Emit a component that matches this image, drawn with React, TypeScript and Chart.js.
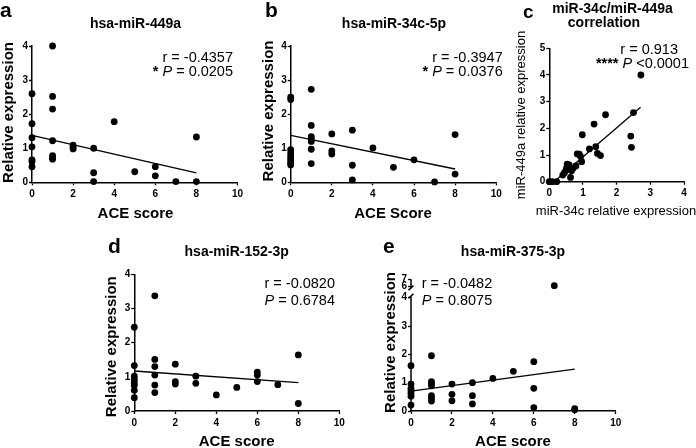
import React, { useEffect, useRef } from 'react';
import { Chart, registerables, LinearScale } from 'chart.js';

const FONT = "'Liberation Sans', Arial, Helvetica, sans-serif";
const W = 696;
const H = 448;

// ---------- data ----------
// a: hsa-miR-449a vs ACE score
const A_ACE = [0, 0, 0, 0, 0, 0, 0, 1, 1, 1, 1, 1, 1, 1, 2, 2, 2, 3, 3, 3, 4, 5, 6, 6, 7, 8, 8];
const A_EXPR = [2.6, 1.72, 1.31, 1.04, 0.66, 0.61, 0.46, 4.0, 2.52, 2.15, 1.22, 0.78, 0.73, 0.68, 1.09, 1.03, 0.98, 1.0, 0.28, 0.02, 1.78, 0.31, 0.46, 0.19, 0.02, 1.33, 0.02];
const A_FIT_X = [0, 8];
const A_FIT_Y = [1.38, 0.28];

// b: hsa-miR-34c-5p vs ACE score
const B_ACE = [0, 0, 0, 0, 0, 0, 0, 0, 0, 1, 1, 1, 1, 1, 1, 1, 2, 2, 2, 3, 3, 3, 4, 5, 6, 7, 8, 8];
const B_EXPR = [2.5, 2.43, 0.96, 0.86, 0.78, 0.7, 0.63, 0.56, 0.51, 2.73, 1.67, 1.34, 1.27, 1.2, 0.97, 0.55, 1.42, 0.92, 0.83, 1.53, 0.5, 0.07, 1.01, 0.44, 0.66, 0.01, 1.4, 0.24];
const B_FIT_X = [0, 8];
const B_FIT_Y = [1.38, 0.39];

// c: miR-34c vs miR-449a
const C_MIR34C = [0, 0.09, 0.22, 0.4, 0.45, 0.5, 0.53, 0.59, 0.51, 0.63, 0.66, 0.71, 0.79, 0.83, 0.89, 0.93, 0.96, 0.98, 1.19, 1.33, 1.38, 1.43, 1.52, 1.67, 2.42, 2.44, 2.5, 2.72];
const C_MIR449A = [0, 0, 0, 0.25, 0.34, 0.44, 0.66, 0.63, 0.5, 0.16, 0.41, 0.5, 0.59, 1.04, 1.03, 0.94, 0.75, 1.76, 1.23, 2.16, 1.31, 1.06, 0.98, 2.51, 1.71, 1.29, 2.59, 4.0];
const C_FIT_X = [0.14, 2.71];
const C_FIT_Y = [0, 2.79];

// d: hsa-miR-152-3p vs ACE score
const D_ACE = [0, 0, 0, 0, 0, 0, 0, 0, 1, 1, 1, 1, 1, 1, 2, 2, 2, 3, 3, 4, 5, 6, 6, 6, 7, 8, 8];
const D_EXPR = [2.45, 1.33, 1.02, 0.92, 0.83, 0.75, 0.61, 0.39, 3.37, 1.51, 1.3, 1.05, 0.76, 0.54, 1.37, 0.86, 0.79, 1.02, 0.81, 0.47, 0.69, 1.14, 1.05, 0.86, 0.77, 1.64, 0.22];
const D_FIT_X = [0, 8];
const D_FIT_Y = [1.17, 0.83];

// e: hsa-miR-375-3p vs ACE score
const E_ACE = [0, 0, 0, 0, 0, 0, 0, 1, 1, 1, 1, 1, 1, 1, 2, 2, 2, 3, 3, 3, 4, 5, 6, 6, 6, 7, 8, 8];
const E_EXPR = [1.6, 0.95, 0.8, 0.71, 0.62, 0.52, 0.21, 1.95, 1.04, 0.98, 0.89, 0.54, 0.45, 0.35, 0.95, 0.59, 0.36, 1.0, 0.54, 0.25, 1.15, 1.4, 1.74, 0.8, 0.12, 6.14, 0.08, 0.04];
const E_FIT_X = [0, 8];
const E_FIT_Y = [0.7, 1.48];
const E_Y_TICKS = [0, 1, 2, 3, 4, 6, 7];

// labels
const TITLES = ['hsa-miR-449a', 'hsa-miR-34c-5p', 'miR-34c/miR-449a', 'correlation', 'hsa-miR-152-3p', 'hsa-miR-375-3p'];
const R_VALUES = ['r = -0.4357', 'r = -0.3947', 'r = 0.913', 'r = -0.0820', 'r = -0.0482'];
const P_VALUES = [' = 0.0205', ' = 0.0376', ' <0.0001', ' = 0.6784', ' = 0.8075'];
const STARS = ['* ', '* ', '**** ', '', ''];

// ---------- broken axis scale for panel e ----------
const E_GAP = 0.39;
const E_UPPER = 0.26;
function brk(v: number) {
  if (v <= 4) return v;
  if (v >= 6) return 4 + E_GAP + (v - 6) * E_UPPER;
  return 4 + ((v - 4) / 2) * E_GAP;
}
function unbrk(t: number) {
  if (t <= 4) return t;
  if (t >= 4 + E_GAP) return 6 + (t - 4 - E_GAP) / E_UPPER;
  return 4 + ((t - 4) / E_GAP) * 2;
}
class BrokenLinearScale extends LinearScale {
  static id = 'brokenLinear';
  static defaults = {};
  buildTicks() {
    return E_Y_TICKS.map((value) => ({ value }));
  }
  getPixelForValue(value: number) {
    return this.getPixelForDecimal(brk(value) / brk(this.max));
  }
  getValueForPixel(pixel: number) {
    return unbrk(this.getDecimalForPixel(pixel) * brk(this.max));
  }
}
Chart.register(...registerables, BrokenLinearScale as any);

// ---------- text drawing ----------
type Seg = { t: string; italic?: boolean; bold?: boolean };
type TextItem = {
  segs: Seg[];
  x: number;
  y: number;
  align: 'left' | 'center' | 'right';
  size: number;
  bold?: boolean;
  rotate?: boolean;
  baseline?: CanvasTextBaseline;
};

function drawItem(ctx: CanvasRenderingContext2D, it: TextItem) {
  ctx.save();
  ctx.fillStyle = '#000';
  ctx.textBaseline = it.baseline ?? 'alphabetic';
  ctx.textAlign = 'left';
  ctx.translate(it.x, it.y);
  if (it.rotate) ctx.rotate(-Math.PI / 2);
  const fontFor = (s: Seg) =>
    `${s.italic ? 'italic ' : ''}${s.bold ?? it.bold ? 'bold ' : ''}${it.size}px ${FONT}`;
  const widths = it.segs.map((s) => {
    ctx.font = fontFor(s);
    return ctx.measureText(s.t).width;
  });
  const total = widths.reduce((a, b) => a + b, 0);
  let x = it.align === 'left' ? 0 : it.align === 'center' ? -total / 2 : -total;
  it.segs.forEach((s, i) => {
    ctx.font = fontFor(s);
    ctx.fillText(s.t, x, 0);
    x += widths[i];
  });
  ctx.restore();
}

const txt = (t: string, x: number, y: number, align: TextItem['align'], size: number, bold = false, extra: Partial<TextItem> = {}): TextItem => ({
  segs: [{ t }], x, y, align, size, bold, ...extra,
});
const pLine = (i: number, x: number, y: number, align: TextItem['align']): TextItem => ({
  segs: [{ t: STARS[i], bold: true }, { t: 'P', italic: true }, { t: P_VALUES[i] }],
  x, y, align, size: 14.5,
});

type Panel = {
  xs: number[]; ys: number[]; fitX: number[]; fitY: number[];
  xMax: number; xStep: number; yMax: number; broken?: boolean;
  area: { L: number; R: number; T: number; B: number };
  texts: TextItem[];
};

const PANELS: Panel[] = [
  {
    xs: A_ACE, ys: A_EXPR, fitX: A_FIT_X, fitY: A_FIT_Y, xMax: 10, xStep: 2, yMax: 4,
    area: { L: 32, R: 237.5, T: 46, B: 182.3 },
    texts: [
      txt('a', 0, 17, 'left', 21, true),
      txt(TITLES[0], 135.5, 28, 'center', 14, true),
      txt(R_VALUES[0], 233, 61.5, 'right', 14.5),
      pLine(0, 233, 76, 'right'),
      txt('Relative expression', 9, 112.5, 'center', 15, true, { rotate: true, baseline: 'middle' }),
      txt('ACE score', 135.5, 218, 'center', 15, true),
    ],
  },
  {
    xs: B_ACE, ys: B_EXPR, fitX: B_FIT_X, fitY: B_FIT_Y, xMax: 10, xStep: 2, yMax: 4,
    area: { L: 290.7, R: 496.2, T: 46, B: 182.3 },
    texts: [
      txt('b', 265, 17, 'left', 21, true),
      txt(TITLES[1], 394, 28, 'center', 14, true),
      txt(R_VALUES[1], 502.7, 61.5, 'right', 14.5),
      pLine(1, 502.7, 76, 'right'),
      txt('Relative expression', 269, 111, 'center', 15, true, { rotate: true, baseline: 'middle' }),
      txt('ACE Score', 393, 218, 'center', 15, true),
    ],
  },
  {
    xs: C_MIR34C, ys: C_MIR449A, fitX: C_FIT_X, fitY: C_FIT_Y, xMax: 4, xStep: 1, yMax: 5,
    area: { L: 549.3, R: 684, T: 48.3, B: 181.7 },
    texts: [
      txt('c', 523, 18, 'left', 19, true),
      txt(TITLES[2], 612.5, 12.5, 'center', 14, true),
      txt(TITLES[3], 604, 27, 'center', 14, true),
      txt(R_VALUES[2], 678, 54, 'right', 14.5),
      pLine(2, 689, 67.5, 'right'),
      txt('miR-449a relative expression', 521, 115, 'center', 13, false, { rotate: true, baseline: 'middle' }),
      txt('miR-34c relative expression', 616, 215, 'center', 13, false),
    ],
  },
  {
    xs: D_ACE, ys: D_EXPR, fitX: D_FIT_X, fitY: D_FIT_Y, xMax: 10, xStep: 2, yMax: 4,
    area: { L: 134.3, R: 339.3, T: 274.3, B: 411 },
    texts: [
      txt('d', 108, 253, 'left', 21, true),
      txt(TITLES[4], 236.7, 256, 'center', 14, true),
      txt(R_VALUES[3], 335, 288.3, 'right', 14.5),
      pLine(3, 335, 305, 'right'),
      txt('Relative expression', 112, 346.7, 'center', 15, true, { rotate: true, baseline: 'middle' }),
      txt('ACE score', 236.7, 446, 'center', 15, true),
    ],
  },
  {
    xs: E_ACE, ys: E_EXPR, fitX: E_FIT_X, fitY: E_FIT_Y, xMax: 10, xStep: 2, yMax: 7, broken: true,
    area: { L: 411, R: 615.7, T: 279.3, B: 411 },
    texts: [
      txt('e', 383, 253, 'left', 21, true),
      txt(TITLES[5], 513, 256, 'center', 14, true),
      txt(R_VALUES[4], 421.7, 288.3, 'left', 14.5),
      pLine(4, 421.7, 305, 'left'),
      txt('Relative expression', 390.5, 342.5, 'center', 15, true, { rotate: true, baseline: 'middle' }),
      txt('ACE score', 513, 446, 'center', 15, true),
    ],
  },
];

const pts = (xs: number[], ys: number[]) => xs.map((x, i) => ({ x, y: ys[i] }));

const brokenAxisPlugin = {
  id: 'brokenAxis',
  beforeDatasetsDraw(chart: any) {
    const y = chart.scales.y;
    const x0 = chart.chartArea.left;
    const ctx: CanvasRenderingContext2D = chart.ctx;
    const p0 = y.getPixelForValue(0);
    const p4 = y.getPixelForValue(4);
    const p6 = y.getPixelForValue(6);
    const p7 = y.getPixelForValue(7);
    ctx.save();
    ctx.strokeStyle = '#000';
    ctx.lineWidth = 1.5;
    ctx.beginPath();
    ctx.moveTo(x0, p0 + 0.75);
    ctx.lineTo(x0, p4 - 1.5);
    ctx.moveTo(x0 - 2.5, p4 + 0.5);
    ctx.lineTo(x0 + 2.5, p4 - 4);
    ctx.moveTo(x0 - 2.5, p6 + 3.5);
    ctx.lineTo(x0 + 2.5, p6 - 1);
    ctx.moveTo(x0, p6 + 1);
    ctx.lineTo(x0, p7);
    ctx.stroke();
    ctx.restore();
  },
};

function makeChart(canvas: HTMLCanvasElement, p: Panel) {
  const YW = 20;
  const XH = 20;
  const tickFont = { family: FONT, size: 10, weight: 'bold' as const };
  const grid = { drawOnChartArea: false, tickLength: 3, tickColor: '#000', tickWidth: 1.3, color: '#000' };
  const textPlugin = {
    id: 'panelText',
    afterDraw(chart: any) {
      p.texts.forEach((it) => drawItem(chart.ctx, it));
    },
  };
  return new Chart(canvas, {
    type: 'scatter',
    data: {
      datasets: [
        {
          type: 'scatter',
          data: pts(p.xs, p.ys),
          pointRadius: 3.4,
          pointHoverRadius: 3.4,
          backgroundColor: '#000',
          borderColor: '#000',
          borderWidth: 0,
          clip: false,
        } as any,
        {
          type: 'line',
          data: pts(p.fitX, p.fitY),
          borderColor: '#000',
          borderWidth: 1.3,
          pointRadius: 0,
          fill: false,
          showLine: true,
          clip: false,
        } as any,
      ],
    },
    options: {
      animation: false,
      responsive: false,
      events: [],
      layout: {
        padding: { left: p.area.L - YW, right: W - p.area.R, top: p.area.T, bottom: H - p.area.B - XH },
      },
      plugins: { legend: { display: false }, tooltip: { enabled: false }, title: { display: false } },
      scales: {
        x: {
          type: 'linear',
          min: 0,
          max: p.xMax,
          ticks: { stepSize: p.xStep, font: tickFont, color: '#000', padding: 3, autoSkip: false, maxRotation: 0 },
          grid,
          border: { color: '#000', width: 1.5 },
          afterFit: (s: any) => { s.height = XH; },
        },
        y: {
          type: (p.broken ? 'brokenLinear' : 'linear') as any,
          min: 0,
          max: p.yMax,
          ticks: {
            stepSize: 1, font: tickFont, color: '#000', padding: 1, autoSkip: false,
            callback: (v: any) => String(v),
          },
          grid,
          border: { display: !p.broken, color: '#000', width: 1.5 },
          afterFit: (s: any) => { s.width = YW; },
        },
      },
    } as any,
    plugins: p.broken ? [textPlugin, brokenAxisPlugin] : [textPlugin],
  });
}

function PanelCanvas({ panel }: { panel: Panel }) {
  const ref = useRef<HTMLCanvasElement>(null);
  useEffect(() => {
    if (!ref.current) return;
    const chart = makeChart(ref.current, panel);
    return () => chart.destroy();
  }, [panel]);
  return (
    <canvas
      ref={ref}
      width={W}
      height={H}
      style={{ position: 'absolute', left: 0, top: 0, width: W, height: H }}
    />
  );
}

export default function App() {
  return (
    <div style={{ position: 'absolute', left: 0, top: 0, width: W, height: H, background: '#fff' }}>
      {PANELS.map((p, i) => (
        <PanelCanvas key={i} panel={p} />
      ))}
    </div>
  );
}
